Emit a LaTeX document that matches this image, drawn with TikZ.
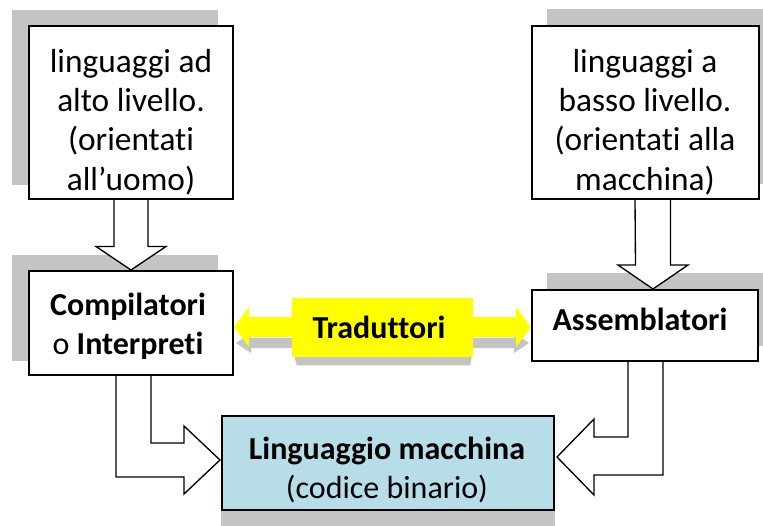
\documentclass[tikz,border=0pt]{standalone}
\usepackage{fontspec}
\setmainfont{Carlito}[Ligatures=NoCommon]
\usetikzlibrary{calc}
\definecolor{shadowc}{HTML}{C4C4C4}
\definecolor{lingblue}{HTML}{B7DDE8}
\definecolor{tradyellow}{HTML}{FFFF00}
\pgfdeclarelayer{shadowlayer}
\pgfdeclarelayer{arrowlayer}
\pgfsetlayers{shadowlayer,arrowlayer,main}
\tikzset{
  boxnode/.style={rectangle, draw=black, line width=1.5pt, fill=white, inner sep=0pt},
  txt/.style={font=\fontsize{24}{29.6}\selectfont, align=center, inner sep=0pt},
  toptxt/.style={txt, font=\fontsize{25}{29.6}\selectfont},
  blockarrow/.style={draw=black, line width=1pt, fill=white, line join=miter},
  shadowfill/.style={fill=shadowc},
}
\begin{document}
\begin{tikzpicture}[x=0.75pt,y=-0.75pt]
\useasboundingbox (0,0) rectangle (763,525);

% boxes
\node[boxnode, minimum width=153pt, minimum height=129.75pt] (hl) at (131,112.5) {};
\node[boxnode, minimum width=170.25pt, minimum height=129.75pt] (ll) at (645.5,112.5) {};
\node[boxnode, minimum width=153pt, minimum height=78pt] (comp) at (131,323) {};
\node[boxnode, minimum width=169.5pt, minimum height=53.25pt] (asm) at (645,325.5) {};
\node[rectangle, fill=tradyellow, inner sep=0pt, minimum width=135.75pt, minimum height=44.25pt] (trad) at (382.5,327.5) {};
\node[boxnode, fill=lingblue, minimum width=249pt, minimum height=70.5pt] (ling) at (388,463) {};

% texts
\node[toptxt] (hlt) at (131,122) {linguaggi ad\\alto livello.\\(orientati\\all’uomo)};
\node[toptxt] (llt) at (645,122) {linguaggi a\\basso livello.\\(orientati alla\\macchina)};
\node[txt] (compt) at (128,326.5) {\textbf{Compilatori}\\o \textbf{Interpreti}};
\node[txt, anchor=base] (asmt) at (640,330) {\textbf{Assemblatori}};
\node[txt, anchor=base] (tradt) at (379,338) {\textbf{Traduttori}};
\node[txt] (lingt) at (387,470) {\textbf{Linguaggio macchina}\\(codice binario)};

% helper coordinates
\coordinate (tl) at ($(comp.east)+(0,4)$);
\coordinate (tr) at ($(asm.west)+(0,1.5)$);
\coordinate (tls) at ($(tl)+(2,16)$);
\coordinate (trs) at ($(tr)+(-2,16)$);
\coordinate (tipL) at ($(ling.west)+(-1,-3)$);
\coordinate (tipR) at ($(ling.east)+(2,-6)$);

\begin{pgfonlayer}{shadowlayer}
  \fill[white] (0,0) rectangle (763,525);
  \fill[shadowfill] ($(hl.south west)+(-16,-15)$) rectangle ($(hl.north east)+(-16,-15)$);
  \fill[shadowfill] ($(ll.south west)+(16,-16)$) rectangle ($(ll.north east)+(16,-16)$);
  \fill[shadowfill] ($(comp.south west)+(-16,-15)$) rectangle ($(comp.north east)+(-16,-15)$);
  \fill[shadowfill] ($(asm.south west)+(16,-16)$) rectangle ($(asm.north east)+(16,-16)$);
  \fill[shadowfill] ($(ling.south west)+(0,16)$) rectangle ($(ling.north east)+(0,16)$);
  \fill[shadowfill] ($(trad.south west)+(0,-10)$) -- ($(trad.south east)+(0,-10)$)
     -- ($(trad.south east)+(-3,8)$) -- ($(trad.south west)+(5,8)$) -- cycle;
  \fill[shadowfill] (tls) -- ++(15,-10) -- ++(0,5) -- ($(trs)+(-15,-5)$) -- ++(0,-5)
     -- (trs) -- ++(-15,10) -- ++(0,-5) -- ($(tls)+(15,5)$) -- ++(0,5) -- cycle;
\end{pgfonlayer}

\begin{pgfonlayer}{arrowlayer}
  % Traduttori double arrow
  \fill[tradyellow] (tl) -- ++(15,-20) -- ++(0,10) -- ($(tr)+(-15,-10)$) -- ++(0,-10)
     -- (tr) -- ++(-15,20) -- ++(0,-10) -- ($(tl)+(15,10)$) -- ++(0,10) -- cycle;
  % high level -> compilers
  \draw[blockarrow] ($(hl.south)+(-17,0)$) -- ($(comp.north)+(-17,-23.5)$) -- ++(-18,0)
     -- (comp.north) -- ($(comp.north)+(35,-23.5)$) -- ++(-18,0) -- ($(hl.south)+(17,0)$);
  % low level -> assemblers
  \draw[blockarrow] ($(ll.south)+(-10.5,0)$) -- ($(asm.north)+(-9.5,-24)$) -- ++(-17.5,0)
     -- ($(asm.north)+(8,0)$) -- ($(asm.north)+(43,-24)$) -- ++(-17.5,0) -- ($(ll.south)+(25,0)$);
  % compilers -> machine language
  \draw[blockarrow] ($(comp.south)+(20,0)$) |- ($(tipL)+(-36,-17)$) -- ++(0,-17) -- (tipL)
     -- ($(tipL)+(-36,34)$) -- ++(0,-17) -| ($(comp.south)+(-15,0)$);
  % assemblers -> machine language
  \draw[blockarrow] ($(asm.south)+(-17,0)$) |- ($(tipR)+(37,-20)$) -- ++(0,-18) -- (tipR)
     -- ($(tipR)+(37,38)$) -- ++(0,-20) -| ($(asm.south)+(18,0)$);
\end{pgfonlayer}
\end{tikzpicture}
\end{document}
